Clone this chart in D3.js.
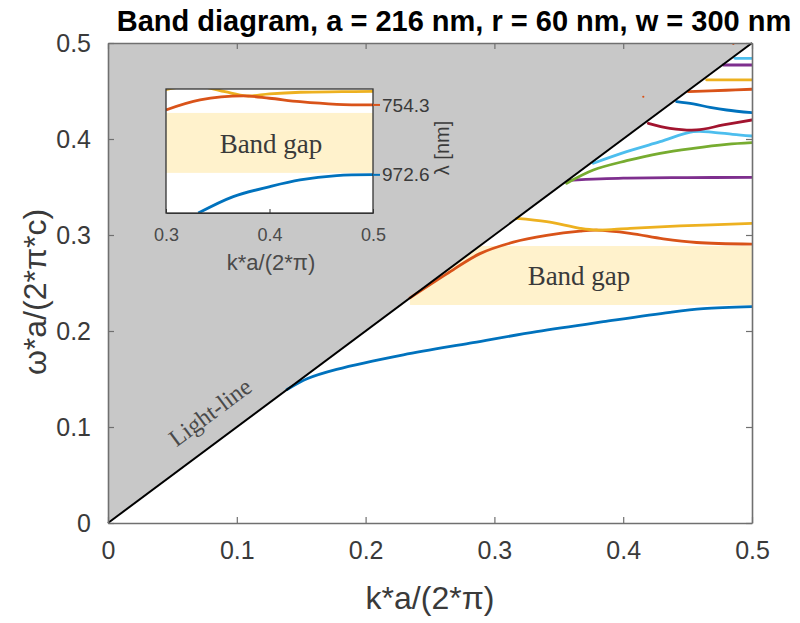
<!DOCTYPE html>
<html><head><meta charset="utf-8">
<script src="https://cdn.jsdelivr.net/npm/d3@7"></script>
<style>body{margin:0;background:#fff}svg{display:block}</style>
</head><body><svg id="c" width="800" height="623"></svg>
<script>
// ---------- data ----------
const titleText = "Band diagram, a = 216 nm, r = 60 nm, w = 300 nm";
const xTicks = [0, 0.1, 0.2, 0.3, 0.4, 0.5];
const yTicks = [0, 0.1, 0.2, 0.3, 0.4, 0.5];
const lightLineK = [0, 0.5];
const gapK = [0.2345, 0.5];
const gapW = [0.2271, 0.2885];

const band1K = [0.139, 0.155, 0.1775, 0.2293, 0.281, 0.3328, 0.3846, 0.4363, 0.4622, 0.5];
const band1W = [0.139, 0.1505, 0.1600, 0.1752, 0.1874, 0.1993, 0.2097, 0.2195, 0.2232, 0.2253];
const band2K = [0.2345, 0.263, 0.2888, 0.3147, 0.3406, 0.3665, 0.3794, 0.4053, 0.4311, 0.457, 0.5];
const band2W = [0.2345, 0.2595, 0.2806, 0.2925, 0.2995, 0.3040, 0.3050, 0.3017, 0.2960, 0.2922, 0.2905];
const band3K = [0.3173, 0.3406, 0.3665, 0.3794, 0.4053, 0.4441, 0.5];
const band3W = [0.3173, 0.3139, 0.307, 0.3052, 0.307, 0.3094, 0.3122];
const band4K = [0.358, 0.4, 0.45, 0.5];
const band4W = [0.357, 0.3592, 0.3598, 0.360];
const band5K = [0.3561, 0.3768, 0.4027, 0.4286, 0.4544, 0.4803, 0.5];
const band5W = [0.3539, 0.3677, 0.3774, 0.3851, 0.3903, 0.3944, 0.3962];
const band6K = [0.3768, 0.4027, 0.4286, 0.4544, 0.47, 0.485, 0.5];
const band6W = [0.3747, 0.3868, 0.3972, 0.4076, 0.407, 0.4048, 0.4031];
const band7K = [0.4195, 0.4363, 0.4571, 0.4777, 0.5];
const band7W = [0.4163, 0.4111, 0.4094, 0.4146, 0.4198];
const band8K = [0.4415, 0.4544, 0.4674, 0.4803, 0.5];
const band8W = [0.4389, 0.4365, 0.433, 0.4302, 0.4274];
const band9K = [0.4506, 0.48, 0.5];
const band9W = [0.4493, 0.4508, 0.4518];
const band10K = [0.4648, 0.5];
const band10W = [0.4615, 0.4615];
const band11K = [0.4777, 0.5];
const band11W = [0.4771, 0.4771];
const band12K = [0.4868, 0.5];
const band12W = [0.484, 0.484];
const bandColors = ["#0072BD","#D95319","#EDB120","#7E2F8E","#77AC30","#4DBEEE","#A2142F","#0072BD","#D95319","#EDB120","#7E2F8E","#4DBEEE"];
const strayK = [0.4855, 0.4156];
const strayW = [0.499, 0.444];

// inset
const insetXTicks = [0.3, 0.4, 0.5];
const insetLambdaTicks = [754.3, 972.6];
const insetLambdaColors = ["#D95319", "#0072BD"];
const latticeA = 216;
const insetGapW = [0.2239, 0.2790];
const insetBlueK = [0.3312, 0.365, 0.4005, 0.4295, 0.465, 0.5];
const insetBlueW = [0.1869, 0.2021, 0.2113, 0.2174, 0.2214, 0.2222];
const insetRedK = [0.3, 0.3329, 0.3747, 0.4, 0.4295, 0.465, 0.5];
const insetRedW = [0.2817, 0.2909, 0.2946, 0.2925, 0.2893, 0.2869, 0.2864];
const insetYellowK = [0.3, 0.32, 0.338, 0.357, 0.378, 0.40, 0.43, 0.47, 0.5];
const insetYellowW = [0.3005, 0.3035, 0.3026, 0.2985, 0.2946, 0.2965, 0.2980, 0.2985, 0.2988];

// ---------- drawing ----------
const svg = d3.select("#c");
const sans = "'Liberation Sans', Arial, sans-serif";
const serif = "'Liberation Serif', 'Times New Roman', serif";
const L = 108, R = 752, T = 43, B = 523;
const x = d3.scaleLinear([0, 0.5], [L, R]);
const y = d3.scaleLinear([0, 0.5], [B, T]);

const defs = svg.append("defs");
defs.append("clipPath").attr("id","plotClip").append("rect")
  .attr("x",L).attr("y",T).attr("width",R-L).attr("height",B-T);

// band gap
svg.append("rect").attr("x", x(gapK[0])).attr("y", y(gapW[1]))
  .attr("width", x(gapK[1]) - x(gapK[0])).attr("height", y(gapW[0]) - y(gapW[1]))
  .attr("fill", "#FFF2CC");

// light cone (gray)
svg.append("path")
  .attr("d", d3.line()([[x(lightLineK[0]), y(lightLineK[0])], [x(lightLineK[1]), y(lightLineK[1])], [x(lightLineK[0]), y(lightLineK[1])]]) + "Z")
  .attr("fill", "#C8C8C8");

// bands
const bands = [
  [band1K,band1W],[band2K,band2W],[band3K,band3W],[band4K,band4W],[band5K,band5W],[band6K,band6W],
  [band7K,band7W],[band8K,band8W],[band9K,band9W],[band10K,band10W],[band11K,band11W],[band12K,band12W]
];
const line = d3.line().x(d => x(d[0])).y(d => y(d[1])).curve(d3.curveCatmullRom.alpha(0.5));
const gb = svg.append("g").attr("clip-path","url(#plotClip)");
bands.forEach((b, i) => {
  gb.append("path").attr("d", line(b[0].map((k, j) => [k, b[1][j]])))
    .attr("fill","none").attr("stroke", bandColors[i]).attr("stroke-width", 2.8)
    .attr("stroke-linecap","round");
});
strayK.forEach((k, i) => gb.append("circle").attr("cx", x(k)).attr("cy", y(strayW[i])).attr("r", 1.1).attr("fill", "#D95319"));

// light line
svg.append("line").attr("x1", x(lightLineK[0])).attr("y1", y(lightLineK[0]))
  .attr("x2", x(lightLineK[1])).attr("y2", y(lightLineK[1]))
  .attr("stroke", "#000").attr("stroke-width", 2);

// axes
const fmt = d3.format("~g");
const axCol = "#707070", txtCol = "#3a3a3a";
function styleAxis(g){
  g.select(".domain").attr("stroke", axCol).attr("stroke-width", 1.6);
  g.selectAll(".tick line").attr("stroke", axCol).attr("stroke-width", 1.2);
  g.selectAll(".tick text").attr("fill", txtCol).attr("font-family", sans).attr("font-size", 25);
}
svg.append("g").attr("transform",`translate(0,${B})`)
  .call(d3.axisBottom(x).tickValues(xTicks).tickFormat(fmt).tickSizeInner(-6).tickSizeOuter(0).tickPadding(18))
  .call(styleAxis);
svg.append("g").attr("transform",`translate(${L},0)`)
  .call(d3.axisLeft(y).tickValues(yTicks).tickFormat(fmt).tickSizeInner(-6).tickSizeOuter(0).tickPadding(17))
  .call(styleAxis);
svg.append("g").attr("transform",`translate(0,${T})`)
  .call(d3.axisTop(x).tickValues(xTicks).tickFormat("").tickSizeInner(-6).tickSizeOuter(0))
  .call(styleAxis);
svg.append("g").attr("transform",`translate(${R},0)`)
  .call(d3.axisRight(y).tickValues(yTicks).tickFormat("").tickSizeInner(-6).tickSizeOuter(0))
  .call(styleAxis);

// title + axis labels
svg.append("text").attr("x", 454).attr("y", 31).attr("text-anchor","middle")
  .attr("font-family", sans).attr("font-weight","bold").attr("font-size", 29).attr("fill","#000")
  .text(titleText);
svg.append("text").attr("x", 430).attr("y", 609).attr("text-anchor","middle")
  .attr("font-family", sans).attr("font-size", 32).attr("fill", txtCol)
  .text("k*a/(2*π)");
svg.append("text").attr("transform","translate(46,292) rotate(-90)").attr("text-anchor","middle")
  .attr("font-family", sans).attr("font-size", 32).attr("fill", txtCol)
  .text("ω*a/(2*π*c)");

// annotations
svg.append("text").attr("x", 579).attr("y", 285).attr("text-anchor","middle")
  .attr("font-family", serif).attr("font-size", 27).attr("fill","#3a3a3a").text("Band gap");
const ang = Math.atan2(y(0) - y(0.5), x(0.5) - x(0)) * 180 / Math.PI;
svg.append("text").attr("transform", `translate(210,412) rotate(${-ang})`).attr("text-anchor","middle")
  .attr("dy","0.35em").attr("font-family", serif).attr("font-size", 24).attr("fill","#4a4a4a").text("Light-line");

// ---------- inset ----------
const iL = 166, iR = 373, iT = 89, iB = 213;
const xi = d3.scaleLinear([0.3, 0.5], [iL, iR]);
const yi = d3.scaleLinear([0.187, 0.301], [iB, iT]);
defs.append("clipPath").attr("id","insetClip").append("rect")
  .attr("x",iL).attr("y",iT).attr("width",iR-iL).attr("height",iB-iT);
svg.append("rect").attr("x",iL).attr("y",iT).attr("width",iR-iL).attr("height",iB-iT).attr("fill","#fff");
svg.append("rect").attr("x",iL).attr("y",yi(insetGapW[1])).attr("width",iR-iL)
  .attr("height", yi(insetGapW[0]) - yi(insetGapW[1])).attr("fill","#FFF2CC");
svg.append("text").attr("x", 271).attr("y", 153).attr("text-anchor","middle")
  .attr("font-family", serif).attr("font-size", 27).attr("fill","#3a3a3a").text("Band gap");
const lineI = d3.line().x(d => xi(d[0])).y(d => yi(d[1])).curve(d3.curveCatmullRom.alpha(0.5));
const gi = svg.append("g").attr("clip-path","url(#insetClip)");
[[insetYellowK, insetYellowW, "#EDB120"], [insetRedK, insetRedW, "#D95319"], [insetBlueK, insetBlueW, "#0072BD"]]
  .forEach(s => gi.append("path").attr("d", lineI(s[0].map((k, j) => [k, s[1][j]])))
    .attr("fill","none").attr("stroke", s[2]).attr("stroke-width", 2.8));
svg.append("rect").attr("x",iL).attr("y",iT).attr("width",iR-iL).attr("height",iB-iT)
  .attr("fill","none").attr("stroke","#333").attr("stroke-width",1.3);
const gix = svg.append("g").attr("transform",`translate(0,${iB})`)
  .call(d3.axisBottom(xi).tickValues(insetXTicks).tickFormat(fmt).tickSizeInner(-4).tickSizeOuter(0).tickPadding(15));
gix.select(".domain").attr("stroke","#333");
gix.selectAll(".tick line").attr("stroke","#333");
gix.selectAll(".tick text").attr("fill","#4a4a4a").attr("font-family", sans).attr("font-size", 18);
svg.append("text").attr("x", 271).attr("y", 270).attr("text-anchor","middle")
  .attr("font-family", sans).attr("font-size", 22).attr("fill","#4a4a4a").text("k*a/(2*π)");
insetLambdaTicks.forEach((lam, i) => {
  const yy = yi(latticeA / lam);
  svg.append("line").attr("x1", iR).attr("x2", iR + 7).attr("y1", yy).attr("y2", yy)
    .attr("stroke", insetLambdaColors[i]).attr("stroke-width", 2);
  svg.append("text").attr("x", iR + 9).attr("y", yy).attr("dy","0.35em")
    .attr("font-family", sans).attr("font-size", 19).attr("fill","#3a3a3a").text(lam.toFixed(1));
});
svg.append("text").attr("transform","translate(449,148) rotate(-90)").attr("text-anchor","middle")
  .attr("font-family", sans).attr("font-size", 20).attr("fill","#3a3a3a").text("λ [nm]");
</script></body></html>
